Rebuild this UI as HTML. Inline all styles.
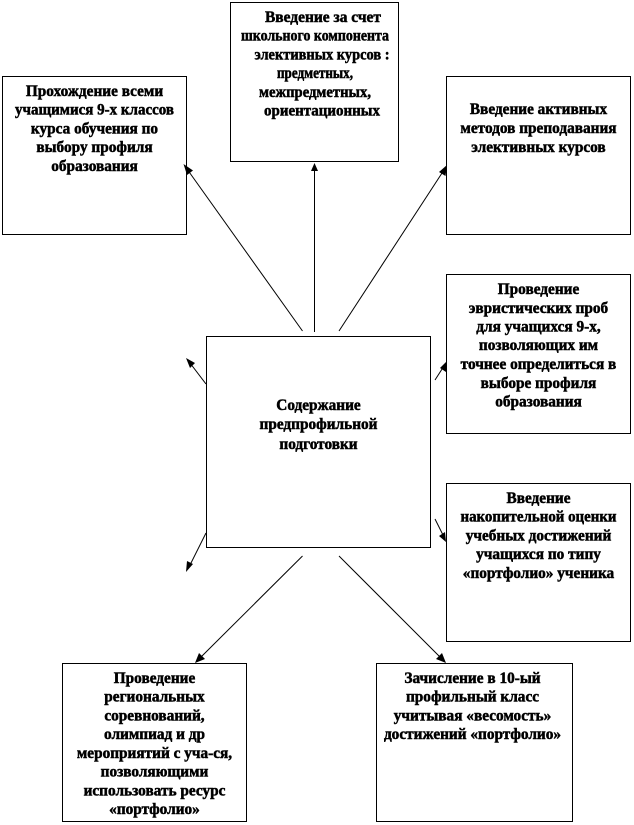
<!DOCTYPE html>
<html>
<head>
<meta charset="utf-8">
<style>
html,body{margin:0;padding:0;background:#fff;}
svg{display:block;}
text{font-family:"Liberation Serif","DejaVu Serif",serif;font-size:15.3px;font-weight:bold;fill:#000;text-anchor:middle;stroke:#000;stroke-width:.5px;}
rect{fill:#fff;stroke:#000;stroke-width:1;}
line{stroke:#000;stroke-width:1;}
polygon{fill:#000;}
</style>
</head>
<body>
<svg width="634" height="825" viewBox="0 0 634 825" xmlns="http://www.w3.org/2000/svg">
<rect x="2.5" y="76.5" width="184" height="158"/>
<rect x="230.5" y="2.5" width="168" height="159"/>
<rect x="446.5" y="76.5" width="184" height="158"/>
<rect x="446.5" y="274.5" width="184" height="159"/>
<rect x="446.5" y="483.5" width="184" height="158"/>
<rect x="206.5" y="336.5" width="224" height="211"/>
<rect x="62.5" y="663.5" width="184" height="158"/>
<rect x="376.5" y="663.5" width="196" height="158"/>

<line x1="302.5" y1="331" x2="187" y2="169"/>
<polygon points="183.5,164 193,170.5 187,175"/>
<line x1="314.5" y1="332" x2="314.5" y2="170"/>
<polygon points="314.5,163 318,171 311,171"/>
<line x1="339" y1="331" x2="444" y2="170"/>
<polygon points="447,165 445.5,176 439,172"/>
<line x1="435" y1="380" x2="444" y2="366"/>
<polygon points="447,361 446,372 440,368"/>
<line x1="435" y1="519" x2="444" y2="537"/>
<polygon points="446,542 439,536 445,532"/>
<line x1="302.5" y1="556" x2="199" y2="659"/>
<polygon points="195,663 199,653 205,659"/>
<line x1="339" y1="556" x2="442" y2="659"/>
<polygon points="446,663 436,659 442,653"/>
<line x1="206" y1="384" x2="190" y2="363"/>
<polygon points="186,358 195,363 190,368"/>
<line x1="206" y1="533" x2="189" y2="567"/>
<polygon points="186,572 187,561 193,564"/>

<text x="94.5" y="96">Прохождение всеми</text>
<text x="94.5" y="114.7" textLength="159" lengthAdjust="spacingAndGlyphs">учащимися 9-х классов</text>
<text x="94.5" y="133.4">курса обучения по</text>
<text x="94.5" y="152">выбору профиля</text>
<text x="94.5" y="171">образования</text>

<text x="323" y="22" textLength="116" lengthAdjust="spacingAndGlyphs">Введение за счет</text>
<text x="315" y="40.7" textLength="148" lengthAdjust="spacingAndGlyphs">школьного компонента</text>
<text x="322" y="59.4" textLength="135" lengthAdjust="spacingAndGlyphs">элективных курсов :</text>
<text x="315" y="78" textLength="76" lengthAdjust="spacingAndGlyphs">предметных,</text>
<text x="315" y="97" textLength="112" lengthAdjust="spacingAndGlyphs">межпредметных,</text>
<text x="322" y="115.7" textLength="116" lengthAdjust="spacingAndGlyphs">ориентационных</text>

<text x="538.5" y="114">Введение активных</text>
<text x="538.5" y="133">методов преподавания</text>
<text x="538.5" y="152">элективных курсов</text>

<text x="538.5" y="294">Проведение</text>
<text x="538.5" y="313">эвристических проб</text>
<text x="538.5" y="331.7">для учащихся 9-х,</text>
<text x="538.5" y="350">позволяющих им</text>
<text x="538.5" y="369">точнее определиться в</text>
<text x="538.5" y="388">выборе профиля</text>
<text x="538.5" y="406.7">образования</text>

<text x="538.5" y="503">Введение</text>
<text x="538.5" y="521.7" textLength="156" lengthAdjust="spacingAndGlyphs">накопительной оценки</text>
<text x="538.5" y="540.4">учебных достижений</text>
<text x="538.5" y="559">учащихся по типу</text>
<text x="538.5" y="578">«портфолио» ученика</text>

<text x="318.5" y="410">Содержание</text>
<text x="318.5" y="429">предпрофильной</text>
<text x="318.5" y="449">подготовки</text>

<text x="154.5" y="683">Проведение</text>
<text x="154.5" y="701.7">региональных</text>
<text x="154.5" y="720.4">соревнований,</text>
<text x="154.5" y="739">олимпиад и др</text>
<text x="154.5" y="758">мероприятий с уча-ся,</text>
<text x="154.5" y="776.7">позволяющими</text>
<text x="154.5" y="795.4">использовать ресурс</text>
<text x="154.5" y="814">«портфолио»</text>

<text x="472.5" y="683">Зачисление в 10-ый</text>
<text x="472.5" y="701.7">профильный класс</text>
<text x="472.5" y="720.4">учитывая «весомость»</text>
<text x="472.5" y="739">достижений «портфолио»</text>
</svg>
</body>
</html>
